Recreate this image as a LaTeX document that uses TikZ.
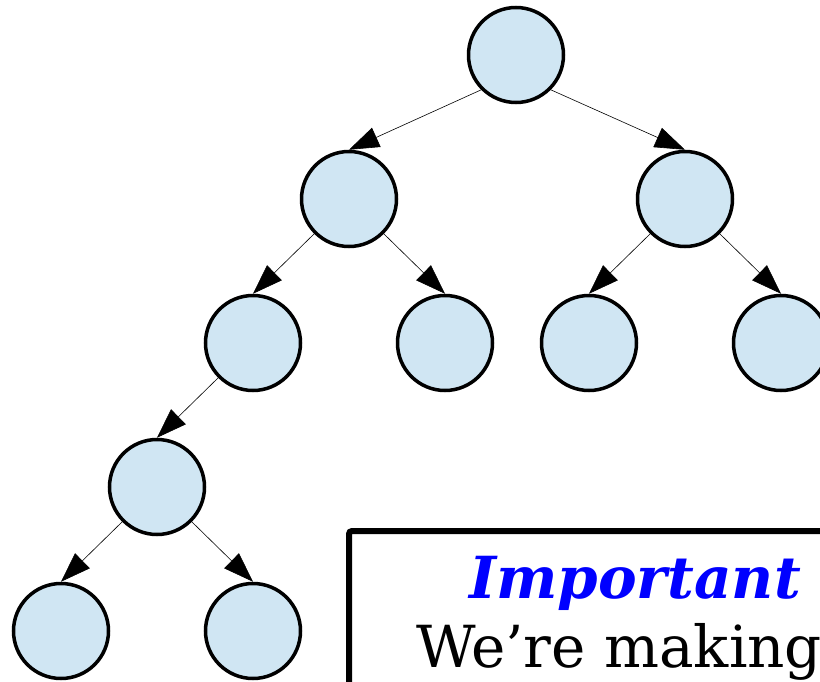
\documentclass[tikz,border=0pt]{standalone}
\usepackage{fontspec}
\setmainfont{DejaVu Serif}
\usetikzlibrary{arrows.meta,positioning}
\definecolor{cnode}{RGB}{208,230,243}

\begin{document}
\begin{tikzpicture}[x=1pt,y=-1pt,>={Triangle[length=30pt,width=21pt]},on grid,
  node distance=144pt and 96pt,
  tree node/.style={circle,fill=cnode,draw,line width=3.5pt,minimum size=95pt,inner sep=0pt},
  note box/.style={draw,line width=6pt,rounded corners=3pt},
  note text/.style={anchor=base,inner sep=0pt,font=\fontsize{58}{62}\selectfont}]
  \useasboundingbox (0,0) rectangle (820,682);
  \clip (0,0) rectangle (820,682);
  \node[tree node] (1) at (516,55) {};
  \node[tree node] (2) [below left=144pt and 167pt of 1] {};
  \node[tree node] (3) [below right=144pt and 169pt of 1] {};
  \node[tree node] (4) [below left=of 2] {};
  \node[tree node] (5) [below right=of 2] {};
  \node[tree node] (6) [below left=of 3] {};
  \node[tree node] (7) [below right=of 3] {};
  \node[tree node] (8) [below left=of 4] {};
  \node[tree node] (9) [below left=of 8] {};
  \node[tree node] (10) [below right=of 8] {};

  \path[->,line width=0.6pt]
    (1.south west) edge (2.north)
    (1.south east) edge (3.north)
    (2.south west) edge (4.north)
    (2.south east) edge (5.north)
    (3.south west) edge (6.north)
    (3.south east) edge (7.north)
    (4.south west) edge (8.north)
    (8.south west) edge (9.north)
    (8.south east) edge (10.north);

  \draw[note box] (349,531) rectangle (900,760);
  \node[note text,text=blue,font=\fontsize{58}{62}\selectfont\bfseries\itshape] (title) at (635,598) {Important};
  \node[note text,anchor=base west] (body) at (416,667) {We’re making};
\end{tikzpicture}
\end{document}
